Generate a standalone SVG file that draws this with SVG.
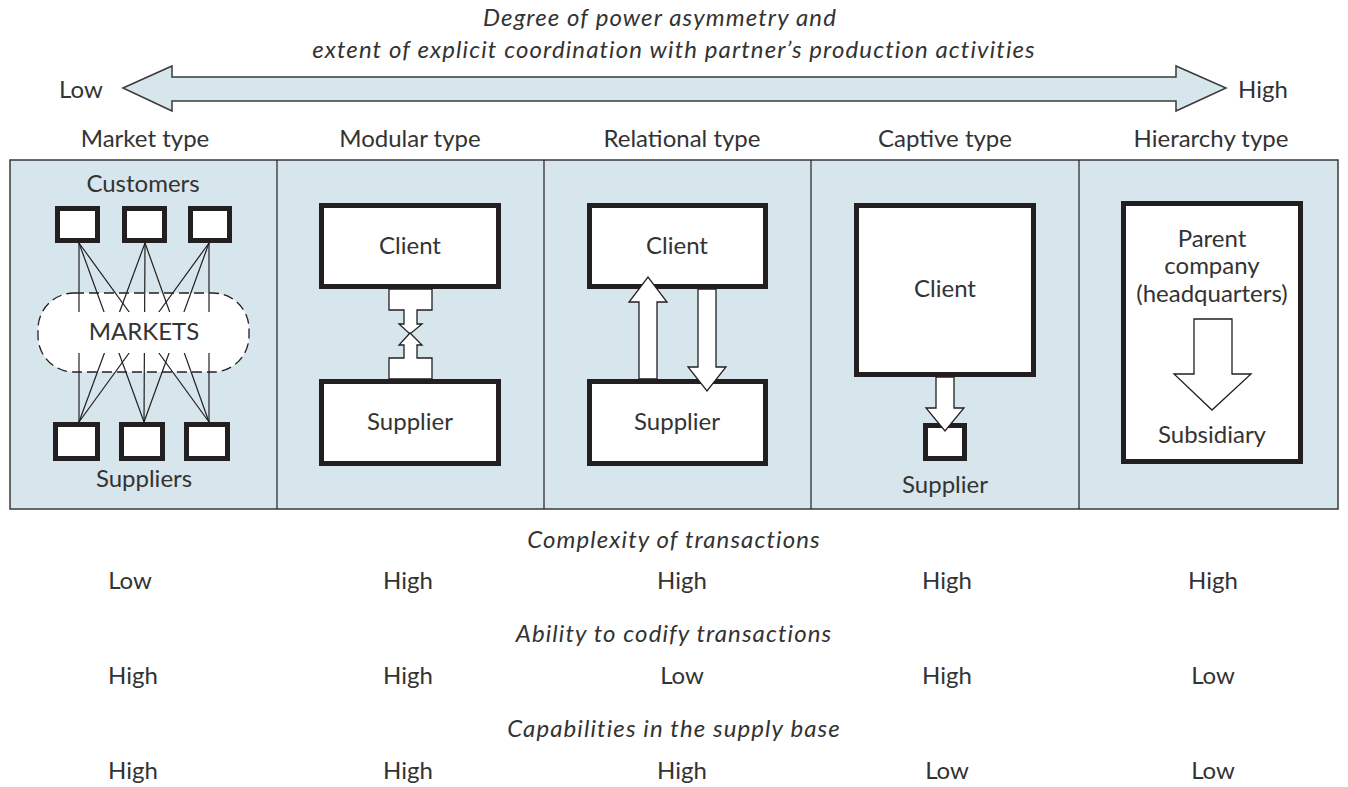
<svg xmlns="http://www.w3.org/2000/svg" width="1348" height="787" viewBox="0 0 1348 787">
<style>
text{font-family:Lato,"Noto Sans","Liberation Sans",sans-serif;fill:#333;font-size:24px;font-weight:400}
.c{text-anchor:middle}
.i{font-style:italic;letter-spacing:1.1px}
.box{fill:#fff;stroke:#231f20;stroke-width:5}
.arr{fill:#fff;stroke:#231f20;stroke-width:1.3;stroke-linejoin:miter}
.ln{stroke:#231f20;stroke-width:1.2;fill:none}
.panel{fill:#d7e5ec;stroke:#3a3a3a;stroke-width:1.5}
</style>
<rect width="1348" height="787" fill="#fff"/>
<g id="axis">
<text class="c i" x="660" y="26">Degree of power asymmetry and</text>
<text class="c i" x="674" y="58">extent of explicit coordination with partner’s production activities</text>
<polygon points="123,88 172,66 172,77 1176,77 1176,66 1226,88 1176,111 1176,101 172,101 172,111" fill="#d7e5ec" stroke="#3a3a3a" stroke-width="1.5"/>
<text x="59" y="98">Low</text>
<text x="1238" y="98">High</text>
</g>
<g id="headers">
<text class="c" x="145" y="147">Market type</text>
<text class="c" x="410" y="147">Modular type</text>
<text class="c" x="682" y="147">Relational type</text>
<text class="c" x="945" y="147">Captive type</text>
<text class="c" x="1211" y="147">Hierarchy type</text>
</g>
<g id="panels">
<rect class="panel" x="10" y="160" width="1328" height="349"/>
<line class="ln" x1="277" y1="160" x2="277" y2="509" stroke-width="1.5"/>
<line class="ln" x1="544" y1="160" x2="544" y2="509" stroke-width="1.5"/>
<line class="ln" x1="811" y1="160" x2="811" y2="509" stroke-width="1.5"/>
<line class="ln" x1="1079" y1="160" x2="1079" y2="509" stroke-width="1.5"/>
</g>
<g id="market">
<text class="c" x="143" y="192">Customers</text>
<rect x="38" y="293" width="211" height="79" rx="36" ry="36" fill="#fff" stroke="#231f20" stroke-width="1.3" stroke-dasharray="10,5"/>
<g id="market-links" class="ln">
<line x1="79" y1="243" x2="79" y2="422"/><line x1="79" y1="243" x2="144" y2="422"/><line x1="79" y1="243" x2="209" y2="422"/>
<line x1="145" y1="243" x2="79" y2="422"/><line x1="145" y1="243" x2="144" y2="422"/><line x1="145" y1="243" x2="209" y2="422"/>
<line x1="209" y1="243" x2="79" y2="422"/><line x1="209" y1="243" x2="144" y2="422"/><line x1="209" y1="243" x2="209" y2="422"/>
</g>
<rect x="60" y="312" width="170" height="41" fill="#fff"/>
<text class="c" x="144" y="340" font-size="22">MARKETS</text>
<rect class="box" x="57.5" y="208.5" width="40" height="32"/>
<rect class="box" x="124.5" y="208.5" width="40" height="32"/>
<rect class="box" x="190.5" y="208.5" width="39" height="32"/>
<rect class="box" x="55.5" y="424.5" width="42" height="34"/>
<rect class="box" x="121.5" y="424.5" width="41" height="34"/>
<rect class="box" x="186.5" y="424.5" width="41" height="34"/>
<text class="c" x="144" y="487">Suppliers</text>
</g>
<g id="modular">
<rect class="box" x="321.5" y="205.5" width="177" height="81"/>
<text class="c" x="410" y="254">Client</text>
<rect class="box" x="321.5" y="381.5" width="177" height="82"/>
<text class="c" x="410" y="430">Supplier</text>
</g>
<g id="relational">
<rect class="box" x="589.5" y="205.5" width="176" height="81"/>
<text class="c" x="677" y="254">Client</text>
<rect class="box" x="589.5" y="381.5" width="176" height="82"/>
<text class="c" x="677" y="430">Supplier</text>
</g>
<g id="captive">
<rect class="box" x="856.5" y="205.5" width="177" height="169"/>
<text class="c" x="945" y="297">Client</text>
<rect class="box" x="925.5" y="425.5" width="39" height="33"/>
<text class="c" x="945" y="493">Supplier</text>
</g>
<g id="hierarchy">
<rect class="box" x="1123.5" y="203.5" width="177" height="258"/>
<text class="c" x="1212" y="247">Parent</text>
<text class="c" x="1212" y="274">company</text>
<text class="c" x="1212" y="302">(headquarters)</text>
<text class="c" x="1212" y="443">Subsidiary</text>
</g>
<g id="connectors">
<polygon class="arr" points="389,289 432,289 432,310 417,310 417,324 422,324 410,334 399,324 404,324 404,310 389,310"/>
<polygon class="arr" points="410,333 422,345 417,345 417,358 432,358 432,379 389,379 389,358 404,358 404,345 399,345"/>
<polygon class="arr" points="639,379 639,302 629,302 648,277 667,302 657,302 657,379"/>
<polygon class="arr" points="698,289 716,289 716,367 726,367 707,391 688,367 698,367"/>
<polygon class="arr" points="936,377 954,377 954,408 964,408 945,431 926,408 936,408"/>
<polygon class="arr" points="1194,319 1232,319 1232,374 1251,374 1212,410 1174,374 1194,374"/>
</g>
<g id="table">
<text class="c i" x="674" y="548">Complexity of transactions</text>
<text class="c" x="130" y="589">Low</text>
<text class="c" x="408" y="589">High</text>
<text class="c" x="682" y="589">High</text>
<text class="c" x="947" y="589">High</text>
<text class="c" x="1213" y="589">High</text>
<text class="c i" x="674" y="642">Ability to codify transactions</text>
<text class="c" x="133" y="684">High</text>
<text class="c" x="408" y="684">High</text>
<text class="c" x="682" y="684">Low</text>
<text class="c" x="947" y="684">High</text>
<text class="c" x="1213" y="684">Low</text>
<text class="c i" x="674" y="737">Capabilities in the supply base</text>
<text class="c" x="133" y="779">High</text>
<text class="c" x="408" y="779">High</text>
<text class="c" x="682" y="779">High</text>
<text class="c" x="947" y="779">Low</text>
<text class="c" x="1213" y="779">Low</text>
</g>
</svg>
